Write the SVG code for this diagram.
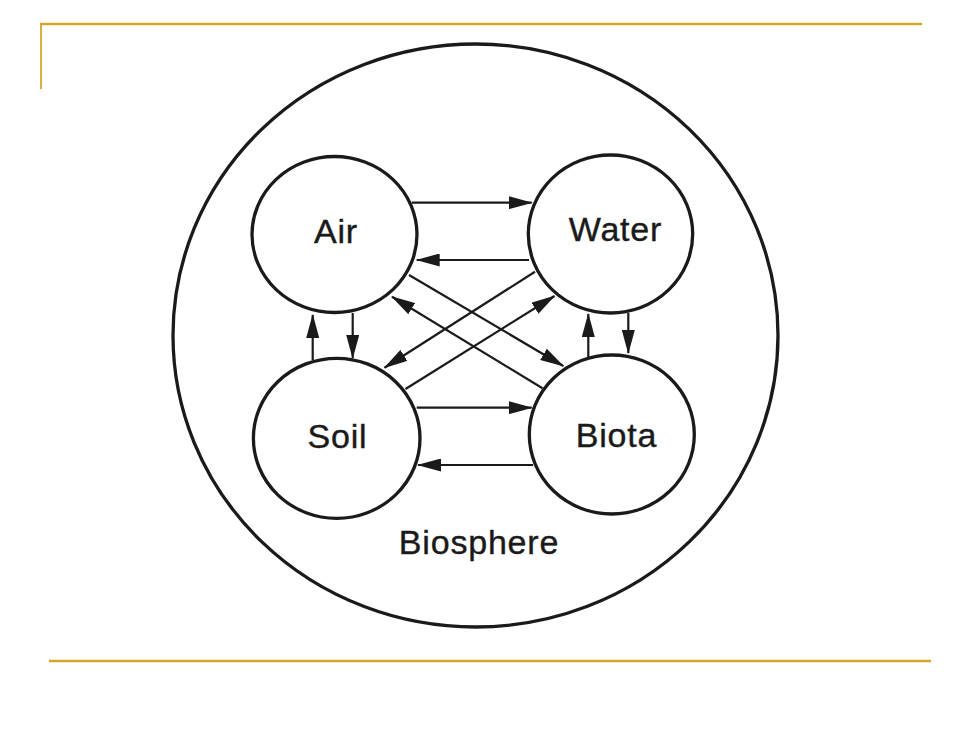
<svg xmlns="http://www.w3.org/2000/svg" width="980" height="735" viewBox="0 0 980 735">
  <style>
    .frame { stroke: #D4A72C; fill: none; }
    .node { fill: #ffffff; stroke: #1a1a1a; stroke-width: 3.3; }
    .outer { fill: #ffffff; stroke: #1a1a1a; stroke-width: 3.3; }
    .label { font-family: "Liberation Sans", Arial, Helvetica, sans-serif; font-size: 34px; letter-spacing: 0.8px; fill: #1a1a1a; stroke: #1a1a1a; stroke-width: 0.4; text-anchor: middle; }
    .conn line { stroke: #1a1a1a; stroke-width: 2.2; marker-end: url(#arrow); }
  </style>
  <defs>
    <marker id="arrow" markerUnits="userSpaceOnUse" markerWidth="24" markerHeight="13" viewBox="0 0 24 13" refX="23" refY="6.5" orient="auto">
      <path d="M0,0 L24,6.5 L0,13 z" fill="#1a1a1a"/>
    </marker>
  </defs>
  <rect width="980" height="735" fill="#ffffff"/>
  <g id="frame">
    <line class="frame" x1="40" y1="24" x2="922" y2="24" stroke-width="2.5"/>
    <line class="frame" x1="41" y1="23" x2="41" y2="89" stroke-width="1.8"/>
    <line class="frame" x1="49" y1="661" x2="931" y2="661" stroke-width="2.5" stroke="#D2AC3E"/>
  </g>
  <g id="biosphere">
    <ellipse class="outer" cx="475.5" cy="335.5" rx="302.5" ry="291.5"/>
    <text class="label" x="479" y="554">Biosphere</text>
  </g>
  <g id="air">
    <ellipse class="node" cx="334.5" cy="234.5" rx="82.5" ry="78"/>
    <text class="label" x="336" y="243">Air</text>
  </g>
  <g id="water">
    <ellipse class="node" cx="610.5" cy="234" rx="82.2" ry="79"/>
    <text class="label" x="615.5" y="241">Water</text>
  </g>
  <g id="soil">
    <ellipse class="node" cx="336.7" cy="438.3" rx="83.3" ry="80"/>
    <text class="label" x="337.5" y="448">Soil</text>
  </g>
  <g id="biota">
    <ellipse class="node" cx="611.8" cy="434.5" rx="82.5" ry="79.5"/>
    <text class="label" x="616.5" y="447">Biota</text>
  </g>
  <g id="connectors" class="conn">
    <line x1="411.7" y1="202.7" x2="531.7" y2="202.7"/>
    <line x1="529" y1="260" x2="416.7" y2="260"/>
    <line x1="312.7" y1="360" x2="312.7" y2="315"/>
    <line x1="352.7" y1="313" x2="352.7" y2="358"/>
    <line x1="588.3" y1="357" x2="588.3" y2="314"/>
    <line x1="628.3" y1="313" x2="628.3" y2="353"/>
    <line x1="416.7" y1="407.7" x2="531.7" y2="407.7"/>
    <line x1="533" y1="465" x2="418" y2="465"/>
    <line x1="409" y1="275" x2="563.3" y2="366"/>
    <line x1="542.5" y1="388.3" x2="392" y2="296.7"/>
    <line x1="535" y1="271.7" x2="384.5" y2="367.8"/>
    <line x1="405.5" y1="389" x2="554.5" y2="296"/>
  </g>
</svg>
